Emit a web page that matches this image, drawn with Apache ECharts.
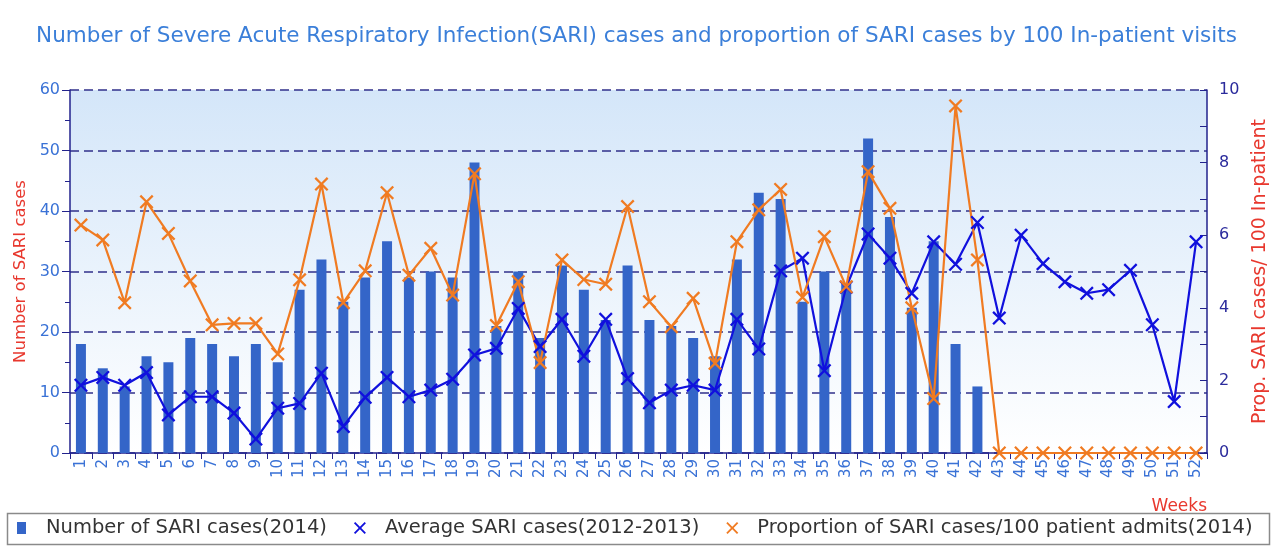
<!DOCTYPE html>
<html>
<head>
<meta charset="utf-8">
<script src="https://cdn.jsdelivr.net/npm/echarts@6/dist/echarts.min.js"></script>
<style>
html,body{margin:0;padding:0;background:#fff;}
#chart{width:1273px;height:546px;}
</style>
</head>
<body>
<div id="chart"></div>
<script>
const weeks = Array.from({length: 52}, (_, i) => String(i + 1));
const sariCases2014 = [18,14,11,16,15,19,18,16,18,15,27,32,25,29,35,29,30,29,48,21,30,19,31,27,22,31,22,21,19,16,32,43,42,25,30,28,52,39,24,35,18,11,null,null,null,null,null,null,null,null,null,null];
const avgSari20122013 = [11.2,12.5,11.2,13.3,6.3,9.3,9.3,6.6,2.3,7.4,8.2,13.2,4.4,9.2,12.5,9.3,10.4,12.2,16.2,17.3,23.9,17.6,22.1,16,22.1,12.3,8.3,10.4,11.2,10.4,22.1,17.2,30.1,32.2,13.6,27.4,36.2,32.2,26.4,34.9,31.2,38.1,22.3,36,31.3,28.3,26.4,27,30.2,21.2,8.5,34.9];
const propSari2014 = [6.28,5.87,4.14,6.92,6.05,4.74,3.53,3.57,3.57,2.73,4.77,7.41,4.14,5.02,7.17,4.9,5.64,4.35,7.69,3.51,4.72,2.49,5.32,4.78,4.65,6.79,4.17,3.48,4.26,2.47,5.82,6.7,7.26,4.29,5.96,4.58,7.75,6.74,4.0,1.5,9.56,5.32,0,0,0,0,0,0,0,0,0,0];
const seriesNames = ['Number of SARI cases(2014)','Average SARI cases(2012-2013)','Proportion of SARI cases/100 patient admits(2014)'];

const FONT = 'DejaVu Sans';
const NAVY = '#22228c';

// X-shaped marker as polygon; optional padding box (w,h) so legend glyph stays small and centred
function xShape(cx, cy, r, t, w, h) {
  const p = [
    [-r, -r + t], [-r + t, -r], [0, -t], [r - t, -r], [r, -r + t], [t, 0],
    [r, r - t], [r - t, r], [0, t], [-r + t, r], [-r, r - t], [-t, 0]
  ].map(([x, y]) => (cx + x).toFixed(2) + ',' + (cy + y).toFixed(2));
  let s = 'path://';
  if (w) s += 'M0,0M' + w + ',' + h;
  return s + 'M' + p.join('L') + 'Z';
}
const XSYM = xShape(5, 5, 5, 1.15);
const XLEG = xShape(20, 7, 6, 1.3, 40, 14);
const SQLEG = 'path://M0,0M40,14M16,1L25,1L25,13L16,13Z';

const chart = echarts.init(document.getElementById('chart'), null, {renderer: 'canvas'});
chart.setOption({
  animation: false,
  backgroundColor: '#ffffff',
  title: {
    text: 'Number of Severe Acute Respiratory Infection(SARI) cases and proportion of SARI cases by 100 In-patient visits',
    left: 'center', top: 20,
    textStyle: {fontFamily: FONT, fontSize: 21.5, fontWeight: 'normal', color: '#3b7fd9'}
  },
  grid: {
    left: 70, right: 66, top: 90, bottom: 93, show: true, borderWidth: 0,
    outerBoundsMode: 'none', containLabel: false,
    backgroundColor: {type: 'linear', x: 0, y: 0, x2: 0, y2: 1,
      colorStops: [{offset: 0, color: '#d4e6f9'}, {offset: 1, color: '#ffffff'}]}
  },
  legend: {
    left: 1, top: 513, itemGap: 13, itemWidth: 40, itemHeight: 14, padding: [5, 0],
    textStyle: {fontFamily: FONT, fontSize: 19.5, color: '#333'},
    data: [
      {name: seriesNames[0], icon: SQLEG, itemStyle: {color: '#3465c8'}},
      {name: seriesNames[1], icon: XLEG, itemStyle: {color: '#1010dd'}},
      {name: seriesNames[2], icon: XLEG, itemStyle: {color: '#f07b22'}}
    ]
  },
  graphic: [
    {type: 'rect', left: 5, top: 511, shape: {width: 1262, height: 31},
     style: {fill: 'none', stroke: '#8a8a8a', lineWidth: 1.5}, z: -1},
    {type: 'text', right: 66, top: 498,
     style: {text: 'Weeks', fill: '#e8382e', fontFamily: FONT, fontSize: 17}}
  ],
  xAxis: {
    type: 'category', data: weeks, boundaryGap: true,
    axisLine: {lineStyle: {color: NAVY, width: 1.5}},
    axisTick: {show: true, length: 6, lineStyle: {color: NAVY}},
    axisLabel: {rotate: 90, interval: 0, fontFamily: FONT, fontSize: 15, color: '#3a72d6', margin: 6}
  },
  yAxis: [
    {
      type: 'value', min: 0, max: 60, interval: 10, position: 'left',
      name: 'Number of SARI cases', nameLocation: 'middle', nameGap: 40,
      nameTextStyle: {fontFamily: FONT, fontSize: 16.5, color: '#e8382e'},
      axisLine: {show: true, lineStyle: {color: NAVY, width: 1.5}},
      axisTick: {show: true, length: 8, lineStyle: {color: NAVY}},
      minorTick: {show: true, splitNumber: 2, length: 5, lineStyle: {color: NAVY}},
      axisLabel: {fontFamily: FONT, fontSize: 16, color: '#3a72d6', margin: 10},
      splitLine: {show: true, lineStyle: {color: '#30308a', type: [9, 5], width: 1.5}}
    },
    {
      type: 'value', min: 0, max: 10, interval: 1, position: 'right',
      name: 'Prop. SARI cases/ 100 In-patient', nameLocation: 'middle', nameGap: 44,
      nameTextStyle: {fontFamily: FONT, fontSize: 19, color: '#e8382e'},
      axisLine: {show: true, lineStyle: {color: NAVY, width: 1.5}},
      axisTick: {show: true, inside: true, length: 7, lineStyle: {color: NAVY}},
      axisLabel: {fontFamily: FONT, fontSize: 16, color: '#2b2b9c', margin: 12,
        formatter: v => (v % 2 === 0 ? String(v) : '')},
      splitLine: {show: false}
    }
  ],
  series: [
    {
      name: seriesNames[0], type: 'bar', data: sariCases2014, yAxisIndex: 0,
      barWidth: 10, itemStyle: {color: '#3465c8'}
    },
    {
      name: seriesNames[1], type: 'line', data: avgSari20122013, yAxisIndex: 0,
      symbol: XSYM, symbolSize: 14, showAllSymbol: true,
      lineStyle: {color: '#1010dd', width: 2.2}, itemStyle: {color: '#1010dd'}
    },
    {
      name: seriesNames[2], type: 'line', data: propSari2014, yAxisIndex: 1,
      symbol: XSYM, symbolSize: 14, showAllSymbol: true,
      lineStyle: {color: '#f07b22', width: 2.2}, itemStyle: {color: '#f07b22'}
    }
  ]
});
</script>
</body>
</html>
